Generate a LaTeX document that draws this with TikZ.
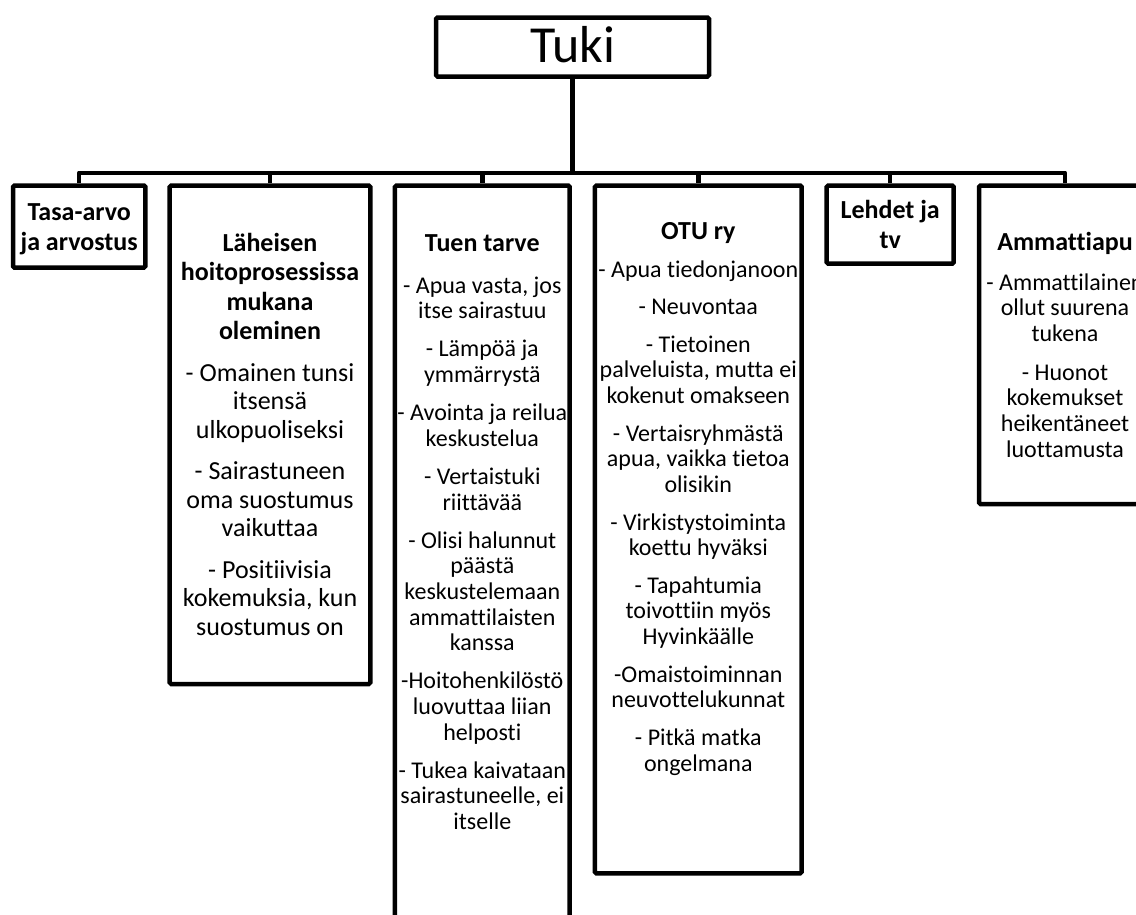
\documentclass[tikz,border=0pt]{standalone}
\usepackage{fontspec}
\setmainfont{Carlito}[Ligatures=NoCommon]
\tikzset{
    laatikko/.style={draw, line width=4.5pt, rounded corners=1.5pt, inner sep=0pt},
    otsikko/.style={anchor=north, align=center, inner sep=0pt, font=\fontsize{26}{29.5}\selectfont\bfseries},
    leipa/.style={anchor=north, align=center, inner sep=0pt, font=\fontsize{24}{25.7}\selectfont},
    haara/.style={line width=4.5pt, line join=round}
}
\begin{document}
\begin{tikzpicture}[x=1pt, y=-1pt]
                \path[use as bounding box, fill=white] (0,0) rectangle (1136,914);
                \clip (0,0) rectangle (1136,914);
                \node[laatikko, minimum width=273pt, minimum height=59pt, text height=36pt, text depth=6pt, font=\fontsize{52}{60}\selectfont] (tuki) at (572.5,47) {Tuki};
                \node[laatikko, minimum width=132.3pt, minimum height=82.2pt] (tasa) at (79.2,226.6) {};
                \node[laatikko, minimum width=200.6pt, minimum height=498.5pt] (laheinen) at (270,434.75) {};
                \node[laatikko, minimum width=174.7pt, minimum height=754.5pt] (tarve) at (482.3,562.75) {};
                \node[laatikko, minimum width=206.7pt, minimum height=687.8pt] (otu) at (698.3,529.4) {};
                \node[laatikko, minimum width=127pt, minimum height=78.2pt] (lehdet) at (890.2,224.6) {};
                \node[laatikko, minimum width=172pt, minimum height=318.5pt] (ammatti) at (1065,344.75) {};
                \draw[haara] (tuki.south) -- ++(0,94) -| (tasa.north);
                \draw[haara] (tuki.south) -- ++(0,94) -| (laheinen.north);
                \draw[haara] (tuki.south) -- ++(0,94) -| (tarve.north);
                \draw[haara] (tuki.south) -- ++(0,94) -| (otu.north);
                \draw[haara] (tuki.south) -- ++(0,94) -| (lehdet.north);
                \draw[haara] (tuki.south) -- ++(0,94) -| (ammatti.north);
                \node[otsikko] (tasa-o) at (79.2,199.85) {\strut Tasa-arvo\\ja arvostus};
                \node[otsikko] (lehdet-o) at (890.2,197.85) {\strut Lehdet ja\\tv};
                \node[otsikko] (laheinen-o) at (270,230.35) {\strut Läheisen\\hoitoprosessissa\\mukana\\oleminen};
                \node[leipa, font=\fontsize{26}{28.5}\selectfont] (laheinen-t) at (270,361) {\strut - Omainen tunsi\\itsensä\\ulkopuoliseksi\\[13pt]- Sairastuneen\\oma suostumus\\vaikuttaa\\[13pt]- Positiivisia\\kokemuksia, kun\\suostumus on};
                \node[otsikko] (tarve-o) at (482.3,231) {\strut Tuen tarve};
                \node[leipa] (tarve-t) at (482.3,275) {\strut - Apua vasta, jos\\itse sairastuu\\[12.3pt]- Lämpöä ja\\ymmärrystä\\[12.3pt]- Avointa ja reilua\\keskustelua\\[12.3pt]- Vertaistuki\\riittävää\\[12.3pt]- Olisi halunnut\\päästä\\keskustelemaan\\ammattilaisten\\kanssa\\[12.3pt]-Hoitohenkilöstö\\luovuttaa liian\\helposti\\[12.3pt]- Tukea kaivataan\\sairastuneelle, ei\\itselle};
                \node[otsikko] (otu-o) at (698.3,219) {\strut OTU ry};
                \node[leipa] (otu-t) at (698.3,259) {\strut - Apua tiedonjanoon\\[11.8pt]- Neuvontaa\\[11.8pt]- Tietoinen\\palveluista, mutta ei\\kokenut omakseen\\[11.8pt]- Vertaisryhmästä\\apua, vaikka tietoa\\olisikin\\[11.8pt]- Virkistystoiminta\\koettu hyväksi\\[11.8pt]- Tapahtumia\\toivottiin myös\\Hyvinkäälle\\[11.8pt]-Omaistoiminnan\\neuvottelukunnat\\[11.8pt]- Pitkä matka\\ongelmana};
                \node[otsikko] (ammatti-o) at (1065,230) {\strut Ammattiapu};
                \node[leipa] (ammatti-t) at (1065,272) {\strut - Ammattilainen\\ollut suurena\\tukena\\[13pt]- Huonot\\kokemukset\\heikentäneet\\luottamusta};
\end{tikzpicture}
\end{document}
